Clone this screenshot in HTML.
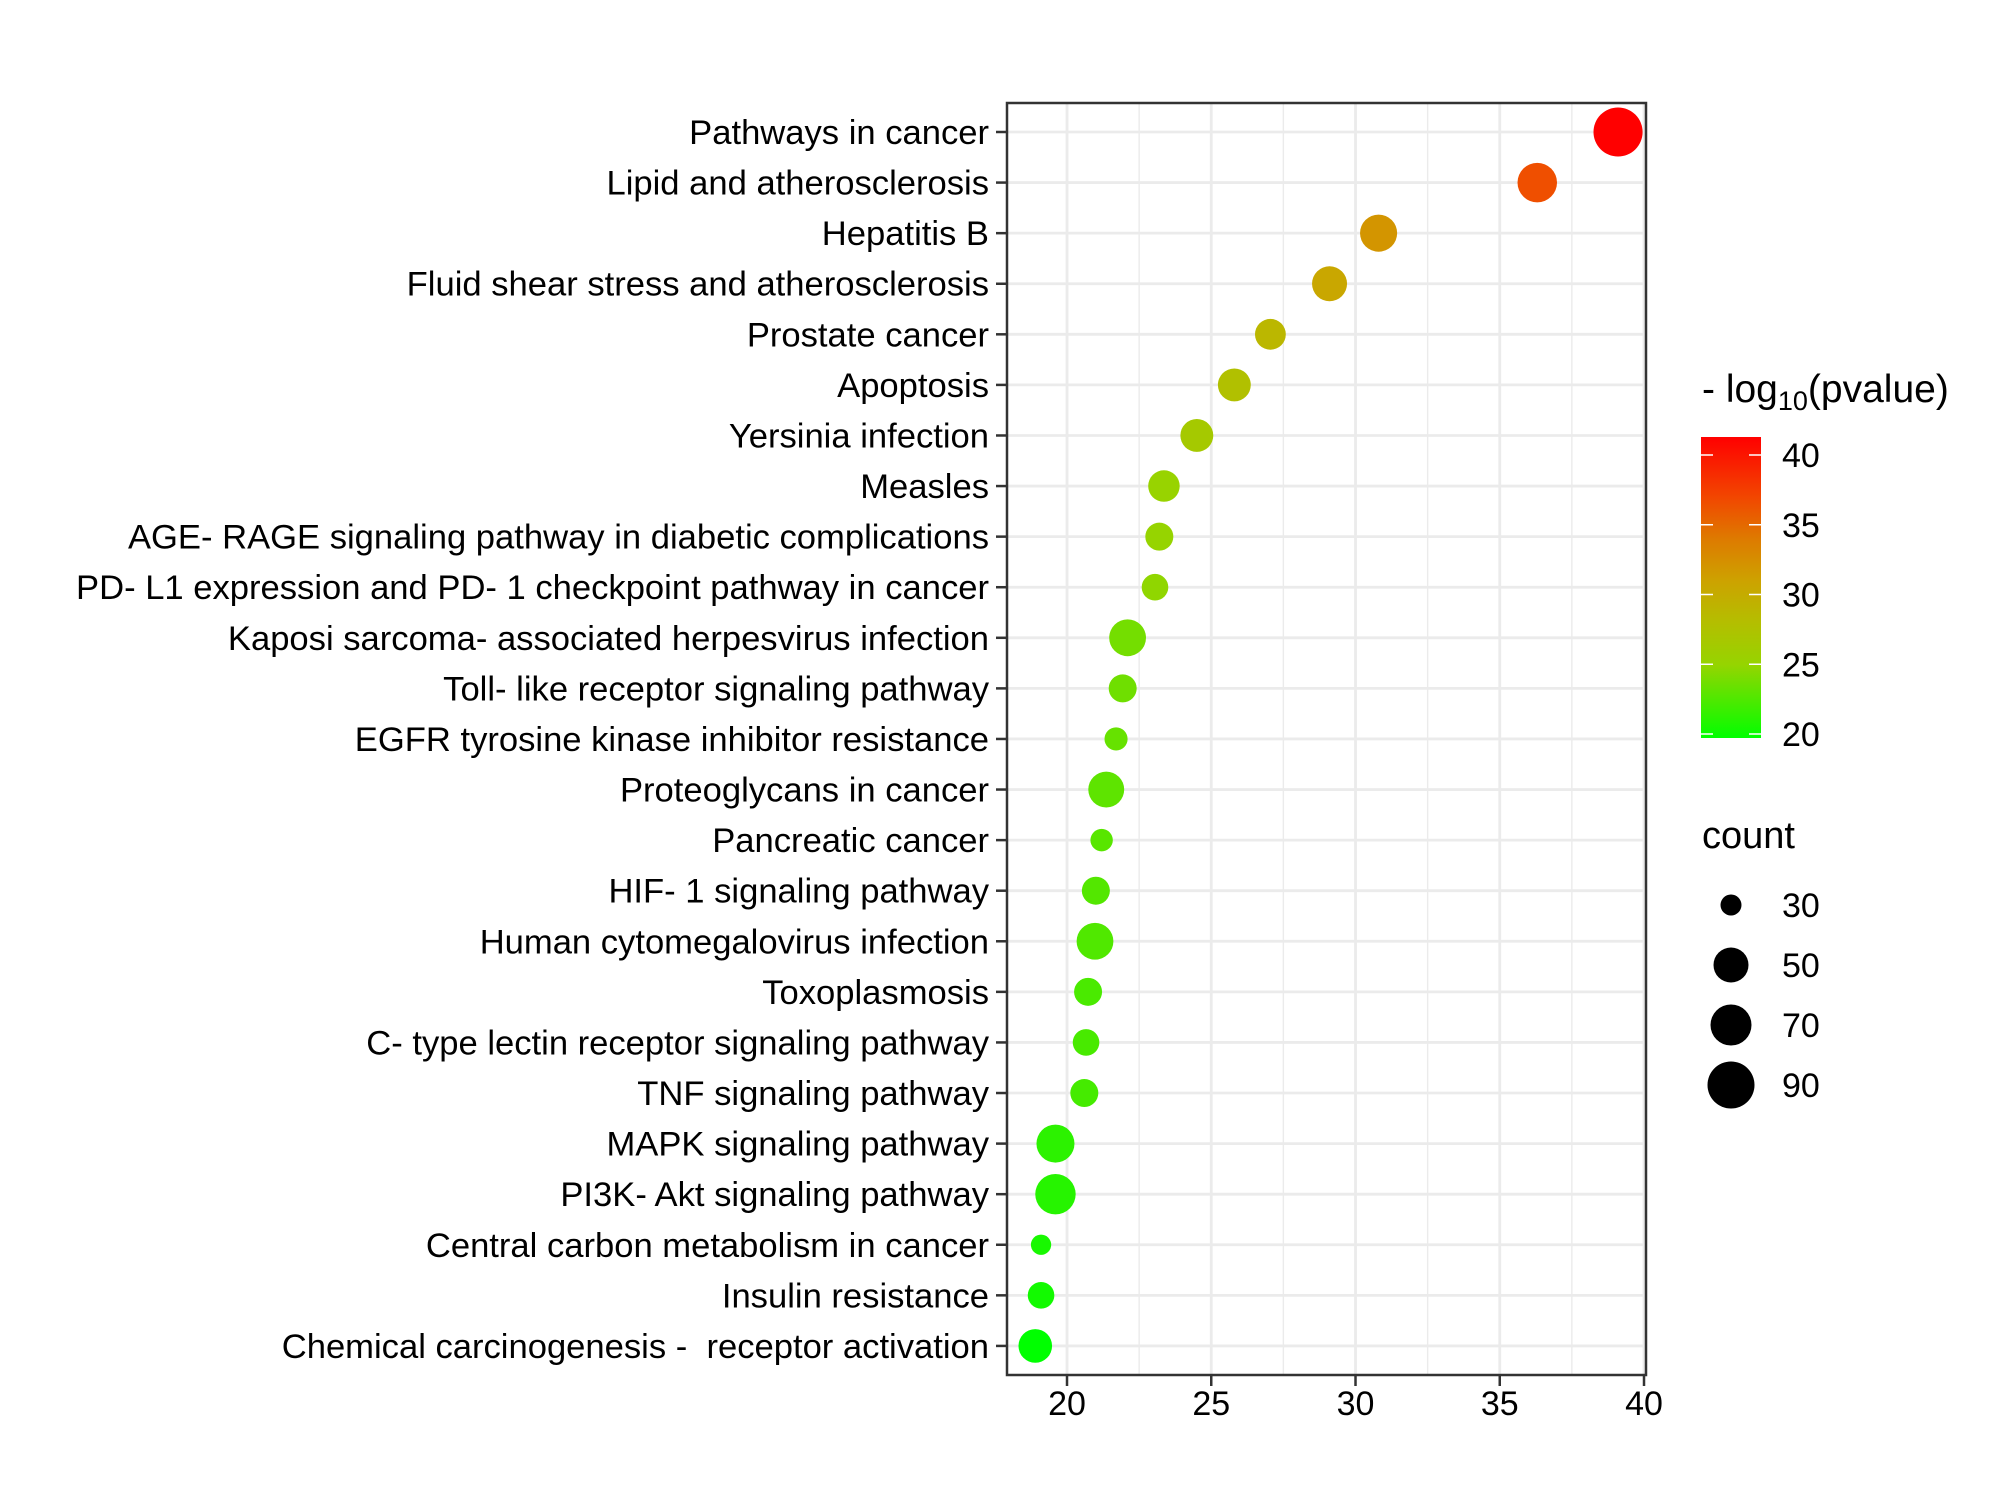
<!DOCTYPE html>
<html><head><meta charset="utf-8"><style>
html,body{margin:0;padding:0;background:#fff;}
svg{display:block;font-family:"Liberation Sans",Arial,sans-serif;}
text{white-space:pre;}
</style></head>
<body>
<svg id="chart" width="2000" height="1499" viewBox="0 0 2000 1499" xmlns="http://www.w3.org/2000/svg">
<rect width="2000" height="1499" fill="#fff"/>
<g id="grid"></g>
<g id="dots"></g>
<rect x="1007" y="103" width="639" height="1272" fill="none" stroke="#333" stroke-width="2.5"/>
<g id="yaxis"></g>
<g id="xaxis"></g>
<g id="legend">
  <text x="1702" y="402" font-size="39">- log<tspan font-size="27" dy="8">10</tspan><tspan dy="-8">(pvalue)</tspan></text>
  <defs><linearGradient id="cg" x1="0" y1="1" x2="0" y2="0"></linearGradient></defs>
  <rect x="1701" y="437" width="60" height="301" fill="url(#cg)"/>
  <g id="cbticks"></g>
  <text x="1702" y="848" font-size="38">count</text>
  <g id="sizeleg"></g>
</g>
</svg>
<script>
const categories = ["Pathways in cancer","Lipid and atherosclerosis","Hepatitis B","Fluid shear stress and atherosclerosis","Prostate cancer","Apoptosis","Yersinia infection","Measles","AGE- RAGE signaling pathway in diabetic complications","PD- L1 expression and PD- 1 checkpoint pathway in cancer","Kaposi sarcoma- associated herpesvirus infection","Toll- like receptor signaling pathway","EGFR tyrosine kinase inhibitor resistance","Proteoglycans in cancer","Pancreatic cancer","HIF- 1 signaling pathway","Human cytomegalovirus infection","Toxoplasmosis","C- type lectin receptor signaling pathway","TNF signaling pathway","MAPK signaling pathway","PI3K- Akt signaling pathway","Central carbon metabolism in cancer","Insulin resistance","Chemical carcinogenesis -  receptor activation"];
const xValues = [39.1,36.3,30.8,29.1,27.05,25.8,24.5,23.36,23.2,23.05,22.1,21.93,21.7,21.36,21.2,21.0,20.97,20.73,20.66,20.6,19.6,19.6,19.1,19.1,18.9];
const counts = [97,65,57,50,44,47,47,45,40,38,56,40,33,53,32,40,56,40,38,40,60,68,29,38,48];
const pvalues = [41.3,36.5,32.0,30.5,28.8,27.7,26.5,25.2,25.0,24.8,23.8,23.6,23.3,23.0,22.8,22.6,22.5,22.3,22.2,22.1,21.2,21.0,20.5,20.3,19.7];
const xTicks = [20,25,30,35,40];
const xMinor = [22.5,27.5,32.5,37.5];
const colorTicks = [20,25,30,35,40];
const sizeBreaks = [30,50,70,90];
const sizeDiam = [21,35,41,47];

const NS="http://www.w3.org/2000/svg";
function mk(tag,attrs,parent){const e=document.createElementNS(NS,tag);for(const k in attrs)e.setAttribute(k,attrs[k]);parent.appendChild(e);return e;}
const X0=17.92, PX0=1007, PXU=28.85;
function xs(v){return PX0+(v-X0)*PXU;}
function ys(i){return 132+i*50.58;}
function diam(c){
  if(c<=sizeBreaks[0]) return sizeDiam[0]+(c-sizeBreaks[0])*(sizeDiam[1]-sizeDiam[0])/(sizeBreaks[1]-sizeBreaks[0]);
  for(let i=0;i<sizeBreaks.length-1;i++){if(c<=sizeBreaks[i+1]) return sizeDiam[i]+(c-sizeBreaks[i])*(sizeDiam[i+1]-sizeDiam[i])/(sizeBreaks[i+1]-sizeBreaks[i]);}
  const n=sizeBreaks.length-1;return sizeDiam[n]+(c-sizeBreaks[n])*(sizeDiam[n]-sizeDiam[n-1])/(sizeBreaks[n]-sizeBreaks[n-1]);
}
const cStops=[[19.7,[0,255,0]],[20,[10,252,0]],[25,[150,212,0]],[28,[180,190,0]],[31,[205,162,0]],[34,[222,122,0]],[37,[242,70,0]],[41.3,[255,0,0]]];
function col(v){
  if(v<=cStops[0][0]) return "rgb(0,255,0)";
  for(let i=0;i<cStops.length-1;i++){const a=cStops[i],b=cStops[i+1];if(v<=b[0]){const t=(v-a[0])/(b[0]-a[0]);const c=a[1].map((x,j)=>Math.round(x+(b[1][j]-x)*t));return `rgb(${c})`;}}
  return "rgb(255,0,0)";
}
const cg=document.getElementById('cg');
cStops.forEach(s=>{mk('stop',{offset:((s[0]-19.7)/21.6).toFixed(3),'stop-color':`rgb(${s[1]})`},cg);});
const cs=v=>734-(v-20)*13.95;

const grid=document.getElementById('grid');
mk('rect',{x:1007,y:103,width:639,height:1272,fill:'#fff'},grid);
xMinor.forEach(v=>{const l=mk('line',{x1:xs(v),x2:xs(v),y1:103,y2:1375,stroke:'#EBEBEB','stroke-width':1.4},grid);

});
xTicks.forEach(v=>{const l=mk('line',{x1:xs(v),x2:xs(v),y1:103,y2:1375,stroke:'#EBEBEB','stroke-width':2.8},grid);

});
categories.forEach((c,i)=>{const l=mk('line',{x1:1007,x2:1646,y1:ys(i),y2:ys(i),stroke:'#EBEBEB','stroke-width':2.8},grid);

});

const dots=document.getElementById('dots');
const yax=document.getElementById('yaxis');
categories.forEach((c,i)=>{
  const d=mk('circle',{cx:xs(xValues[i]),cy:ys(i),r:diam(counts[i])/2,fill:col(pvalues[i])},dots);
  
  
  const t=mk('line',{x1:996,x2:1007,y1:ys(i),y2:ys(i),stroke:'#333','stroke-width':2.5},yax);
  
  
  const tx=mk('text',{x:989,y:ys(i)+12,'text-anchor':'end','font-size':34.6,fill:'#000'},yax);
  tx.textContent=c;
  
  
});
const xax=document.getElementById('xaxis');
xTicks.forEach(v=>{
  const t=mk('line',{x1:xs(v),x2:xs(v),y1:1375,y2:1386,stroke:'#333','stroke-width':2.5},xax);
  
  
  const tx=mk('text',{x:xs(v),y:1415,'text-anchor':'middle','font-size':34,fill:'#000'},xax);
  tx.textContent=v;
  
  
});
const cbt=document.getElementById('cbticks');
colorTicks.forEach(v=>{
  mk('line',{x1:1701,x2:1713,y1:cs(v),y2:cs(v),stroke:'#fff','stroke-width':1.5},cbt);
  mk('line',{x1:1749,x2:1761,y1:cs(v),y2:cs(v),stroke:'#fff','stroke-width':1.5},cbt);
  const tx=mk('text',{x:1782,y:cs(v)+12,'font-size':34,fill:'#000'},cbt);
  tx.textContent=v;
  
  
});
const sl=document.getElementById('sizeleg');
sizeBreaks.forEach((b,i)=>{
  const y=905+i*60;
  const c=mk('circle',{cx:1731,cy:y,r:diam(b)/2,fill:'#000'},sl);
  
  
  const tx=mk('text',{x:1782,y:y+12,'font-size':34,fill:'#000'},sl);
  tx.textContent=b;
  
  
});
</script>
</body></html>
